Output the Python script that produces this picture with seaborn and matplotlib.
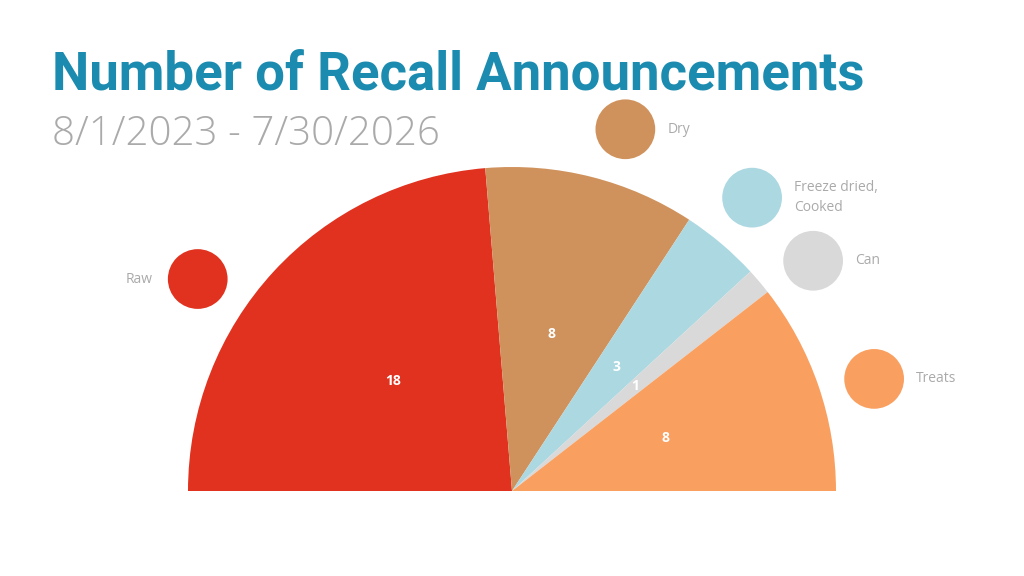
import numpy as np
import pandas as pd
import seaborn as sns
import matplotlib.pyplot as plt

categories = ["Raw", "Dry", "Freeze dried,\nCooked", "Can", "Treats"]
counts = [18, 8, 3, 1, 8]
colors = ["#e0321e", "#d0925c", "#acd8e1", "#d9d9d9", "#f9a061"]

title = "Number of Recall Announcements"
subtitle = "8/1/2023 - 7/30/2026"

# where the legend dots sit round the half pie (degrees, radius in pie units)
dot_angles = [146, 72.6, 50.7, 37.4, 17.2]
dot_radius = 1.17

sns.set_theme(style="white")
plt.rcParams["font.family"] = ["Open Sans", "DejaVu Sans"]

fig = plt.figure(figsize=(10.24, 5.76), dpi=100)
ax = fig.add_axes([0, 0, 1, 1])

total = sum(counts)
wedges, _ = ax.pie(
    counts + [total],
    colors=colors + ["none"],
    startangle=180,
    counterclock=False,
    radius=1,
    wedgeprops={"linewidth": 0},
)

# value labels at half radius
start = 180.0
for v in counts:
    span = 180.0 * v / total
    mid = np.deg2rad(start - span / 2)
    ax.text(0.5 * np.cos(mid), 0.5 * np.sin(mid), str(v), color="white",
            fontsize=10, fontweight="bold", ha="center", va="center")
    start -= span

# legend dots
dots = pd.DataFrame({
    "cat": categories,
    "x": [dot_radius * np.cos(np.deg2rad(a)) for a in dot_angles],
    "y": [dot_radius * np.sin(np.deg2rad(a)) for a in dot_angles],
})
sns.scatterplot(data=dots, x="x", y="y", hue="cat", palette=colors,
                s=1850, linewidth=0, legend=False, ax=ax, zorder=3)

for _, row in dots.iterrows():
    if row["x"] < 0:
        ax.text(row["x"] - 0.14, row["y"], row["cat"], color="#aaaaaa",
                fontsize=10, ha="right", va="center")
    else:
        ax.text(row["x"] + 0.13, row["y"], row["cat"], color="#aaaaaa",
                fontsize=10, ha="left", va="center", linespacing=1.5)

ax.set_xlim(-512 / 324, 512 / 324)
ax.set_ylim(-85 / 324, 491 / 324)
ax.set_aspect("auto")
ax.axis("off")

fig.text(52 / 1024, 1 - 90 / 576, title, color="#1b8bb0", fontsize=38,
         fontweight="bold", ha="left", va="baseline",
         family=["Roboto", "DejaVu Sans"])
fig.text(52 / 1024, 1 - 145 / 576, subtitle, color="#aaaaaa", fontsize=29,
         fontweight="light", ha="left", va="baseline")

fig.savefig("out.png", dpi=100)
